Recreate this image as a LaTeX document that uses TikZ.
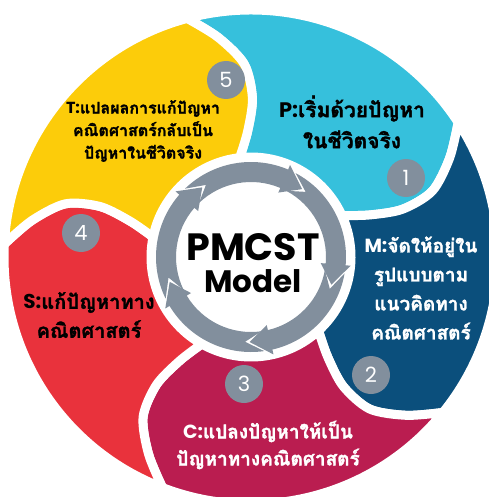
\documentclass[tikz,border=0pt]{standalone}
\usepackage{fontspec}
\setmainfont{Poppins}
\newfontfamily\thaifont[Script=Thai, BoldFeatures={FakeBold=1.5}]{Loma}
\newcommand\thai[1]{{\thaifont #1}}
\definecolor{pcyan}{HTML}{36C0DC}
\definecolor{pblue}{HTML}{0B4F7C}
\definecolor{pmagenta}{HTML}{BA1D50}
\definecolor{pred}{HTML}{E9323C}
\definecolor{pyellow}{HTML}{FCCC0A}
\definecolor{ringgray}{HTML}{828F9D}
% one petal: #1 angle of its head, #2 colour
\newcommand\petal[2]{%
  \filldraw[petal=#2] (#1+72:247) arc[start angle=#1+72, end angle=#1, radius=247]
    -- plot[smooth] coordinates {(#1:247) (#1-6.5:222) (#1-13:193) (#1-15.5:159) (#1-13.5:126) (#1-8.5:100)}
    arc[start angle=#1-8.5, end angle=#1+63.5, radius=100]
    -- plot[smooth] coordinates {(#1+63.5:100) (#1+58.5:126) (#1+56.5:159) (#1+59:193) (#1+65.5:222) (#1+72:247)}
    -- cycle;}
% one arrow of the ring: #1 angle of its tip
\newcommand\ringarrow[1]{%
  \fill[ringgray] (#1+81:95) arc[start angle=#1+81, end angle=#1+14, radius=95]
    -- (#1+14:100) -- (#1:85) -- (#1+14:70) -- (#1+14:75)
    arc[start angle=#1+14, end angle=#1+81, radius=75] -- (#1+69:85) -- cycle;}

\begin{document}
\begin{tikzpicture}[x=1pt, y=1pt,
  petal/.style={fill=#1, draw=white, line width=9pt, line join=round},
  numdot/.style={circle, fill=ringgray, text=white, minimum size=38pt, inner sep=0pt,
    font=\fontsize{21}{21}\selectfont},
  steptext/.style 2 args={align=center, font=\bfseries\fontsize{#1}{#2}\selectfont}]
\useasboundingbox (0,0) rectangle (488,-497);
\coordinate (O) at (251,-257);

\begin{scope}[shift={(O)}]
  \petal{33}{pcyan}
  \petal{-39}{pblue}
  \petal{-111}{pmagenta}
  \petal{-183}{pred}
  \petal{105}{pyellow}

  \fill[white] (0,0) circle[radius=75];
  \ringarrow{53}
  \ringarrow{-19}
  \ringarrow{-91}
  \ringarrow{-163}
  \ringarrow{125}
\end{scope}

% centre
\node[font=\bfseries\fontsize{38}{38}\selectfont, anchor=base] (pmcst) at (253,-260) {PMCST};
\node[font=\bfseries\fontsize{31}{31}\selectfont, anchor=base] (model) at (253,-292) {Model};

% numbers
\node[numdot] (n1) at (406,-178) {1};
\node[numdot] (n2) at (371,-375) {2};
\node[numdot] (n3) at (244,-384) {3};
\node[numdot] (n4) at (81,-233) {4};
\node[numdot] (n5) at (226,-80) {5};

% texts of the five steps
\node[steptext={21}{31}, text=black] (ptext) at (352,-122)
  {P:\thai{เริ่มด้วยปัญหา}\\\thai{ในชีวิตจริง}};
\node[steptext={19}{29}, text=white] (mtext) at (421,-288)
  {M:\thai{จัดให้อยู่ใน}\\\thai{รูปแบบตาม}\\\thai{แนวคิดทาง}\\\thai{คณิตศาสตร์}};
\node[steptext={19}{27}, text=white] (ctext) at (268,-445)
  {C:\thai{แปลงปัญหาให้เป็น}\\\thai{ปัญหาทางคณิตศาสตร์}};
\node[steptext={20}{29}, text=black] (stext) at (89,-315)
  {S:\thai{แก้ปัญหาทาง}\\\thai{คณิตศาสตร์}};
\node[steptext={16}{22.5}, text=black] (ttext) at (143,-131)
  {T:\thai{แปลผลการแก้ปัญหา}\\\thai{คณิตศาสตร์กลับเป็น}\\\thai{ปัญหาในชีวิตจริง}};
\end{tikzpicture}
\end{document}
